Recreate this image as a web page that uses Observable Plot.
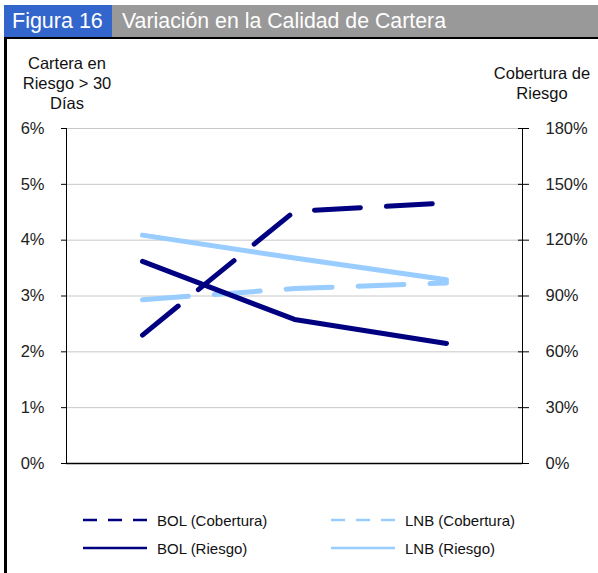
<!DOCTYPE html>
<html>
<head>
<meta charset="utf-8">
<script src="https://cdn.jsdelivr.net/npm/d3@7"></script>
<script src="https://cdn.jsdelivr.net/npm/@observablehq/plot@0.6"></script>
<style>
  html, body { margin: 0; padding: 0; background: #fff; }
  body { font-family: "Liberation Sans", Arial, sans-serif; }
  #wrap { position: relative; width: 598px; height: 573px; overflow: hidden; background: #fff; }
  #chart { position: absolute; left: 0; top: 0; }
  .titlebar { position: absolute; left: 4px; top: 5px; width: 594px; height: 32px; display: flex; color: #fff; line-height: 32px; white-space: nowrap; }
  .titlebar .num { display: block; width: 108px; flex: none; background: #3366cc; font-size: 21.5px; padding-left: 8px; box-sizing: border-box; }
  .titlebar .txt { display: block; flex: 1; background: #999999; font-size: 21.3px; padding-left: 10px; box-sizing: border-box; }
  .topline { position: absolute; left: 4px; top: 37px; width: 594px; height: 2px; background: #000; }
  .leftline { position: absolute; left: 4px; top: 37px; width: 3px; height: 536px; background: #000; }
  .atitle { position: absolute; font-size: 16.5px; line-height: 20px; color: #111; text-align: center; white-space: nowrap; }
  .leg { position: absolute; font-size: 15px; color: #111; display: flex; align-items: center; height: 20px; white-space: nowrap; }
  .leg svg { margin-right: 9px; }
</style>
</head>
<body>
<div id="wrap">
  <div id="chart"></div>
  <div class="titlebar"><span class="num">Figura 16</span><span class="txt">Variación en la Calidad de Cartera</span></div>
  <div class="topline"></div>
  <div class="leftline"></div>
  <div class="atitle" style="left:12px; top:53px; width:110px;">Cartera en<br>Riesgo &gt; 30<br>Días</div>
  <div class="atitle" style="left:482px; top:63px; width:120px;">Cobertura de<br>Riesgo</div>
  <div id="legend"></div>
</div>
<script>
// Data
const periods = ["P1", "P2", "P3"];
const bolRiesgo = [0.0362, 0.0258, 0.0215];
const lnbRiesgo = [0.0409, 0.0368, 0.0329];
const bolCobertura = [0.69, 1.355, 1.40];
const lnbCobertura = [0.88, 0.94, 0.97];
const leftTicks = [0, 0.01, 0.02, 0.03, 0.04, 0.05, 0.06];
const rightTickLabels = ["0%", "30%", "60%", "90%", "120%", "150%", "180%"];

const navy = "#000080";
const light = "#99ccff";
const ratio = 30; // 180% on right axis == 6% on left axis

const series = [
  {name: "BOL (Cobertura)", values: bolCobertura.map(v => v / ratio), color: navy, dash: "46,26"},
  {name: "LNB (Cobertura)", values: lnbCobertura.map(v => v / ratio), color: light, dash: "46,26"},
  {name: "BOL (Riesgo)", values: bolRiesgo, color: navy, dash: null},
  {name: "LNB (Riesgo)", values: lnbRiesgo, color: light, dash: null}
];

const lineMarks = series.map(s => Plot.line(
  periods.map((p, i) => ({p, v: s.values[i]})),
  {x: "p", y: "v", stroke: s.color, strokeWidth: 5, strokeLinecap: "round", strokeLinejoin: "round", strokeDasharray: s.dash || undefined}
));

const chart = Plot.plot({
  width: 598,
  height: 573,
  marginTop: 128,
  marginBottom: 110,
  marginLeft: 66,
  marginRight: 76,
  style: {fontFamily: "Liberation Sans, Arial, sans-serif", fontSize: "16.5px", background: "transparent", color: "#222"},
  x: {type: "point", domain: periods, padding: 0.5, axis: null},
  y: {domain: [0, 0.06], axis: null},
  marks: [
    Plot.gridY(leftTicks, {stroke: "#c8c8c8", strokeOpacity: 1, strokeWidth: 1}),
    Plot.axisY(leftTicks, {anchor: "left", tickSize: 5, tickPadding: 17, tickFormat: d => Math.round(d * 100) + "%", stroke: "#000", fill: "#222"}),
    Plot.axisY(leftTicks, {anchor: "right", tickSize: 6, tickPadding: 17, tickFormat: (d, i) => rightTickLabels[i], stroke: "#000", fill: "#222", textAnchor: "start"}),
    Plot.axisY(leftTicks, {anchor: "right", tickSize: -5, tickFormat: () => "", stroke: "#000"}),
    Plot.frame({anchor: "left", stroke: "#000"}),
    Plot.frame({anchor: "right", stroke: "#000"}),
    Plot.ruleY([0], {stroke: "#000", strokeWidth: 1.5}),
    ...lineMarks
  ]
});
document.getElementById("chart").appendChild(chart);

// Legend
const legend = document.getElementById("legend");
const legPos = [
  {left: 82, top: 510}, {left: 330, top: 510},
  {left: 82, top: 538}, {left: 330, top: 538}
];
series.forEach((s, j) => {
  const d = document.createElement("div");
  d.className = "leg";
  d.style.left = legPos[j].left + "px";
  d.style.top = legPos[j].top + "px";
  d.innerHTML = `<svg width="66" height="20"><line x1="1" y1="10" x2="65" y2="10" stroke="${s.color}" stroke-width="2.5" ${s.dash ? 'stroke-dasharray="14,11"' : ''}/></svg><span>${s.name}</span>`;
  legend.appendChild(d);
});
</script>
</body>
</html>
